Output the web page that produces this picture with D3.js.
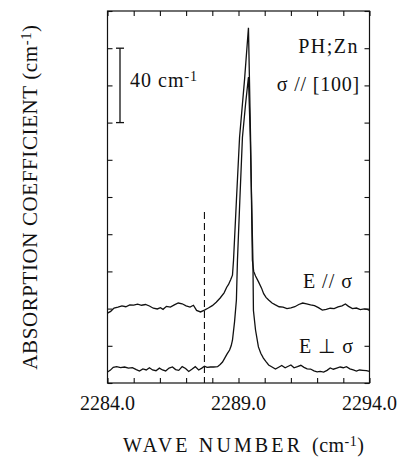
<!DOCTYPE html>
<html>
<head>
<meta charset="utf-8">
<script src="https://cdn.jsdelivr.net/npm/d3@7"></script>
<style>
  body { margin: 0; background: #fff; }
  text { font-family: "Liberation Serif", "Times New Roman", serif; fill: #111; }
</style>
</head>
<body>
<svg id="chart" width="406" height="457"></svg>
<script>
// E // sigma trace (wave number, absorption cm-1)
var wnPar = [2284.00,2284.12,2284.25,2284.40,2284.55,2284.70,2284.85,2285.00,2285.15,2285.30,2285.45,2285.60,2285.75,2285.90,2286.02,2286.12,2286.25,2286.40,2286.55,2286.70,2286.85,2287.00,2287.15,2287.28,2287.40,2287.55,2287.70,2287.85,2288.00,2288.15,2288.30,2288.45,2288.55,2288.62,2288.70,2288.77,2288.81,2288.92,2289.04,2289.23,2289.38,2289.46,2289.53,2289.58,2289.65,2289.76,2289.88,2289.96,2290.05,2290.15,2290.28,2290.41,2290.55,2290.70,2290.85,2291.00,2291.15,2291.30,2291.45,2291.60,2291.75,2291.90,2292.05,2292.20,2292.35,2292.50,2292.65,2292.80,2292.95,2293.08,2293.20,2293.35,2293.50,2293.65,2293.80,2293.92,2294.00];
var absPar = [37.6,38.5,40.3,40.8,41.5,41.0,42.0,41.9,42.4,41.8,42.2,41.4,40.2,39.8,40.5,39.6,41.2,40.8,42.0,43.0,42.6,41.5,40.8,41.8,39.0,38.2,39.2,40.3,41.6,43.4,45.7,48.5,51.5,53.0,55.5,58.0,66,98,132,163,191,132,66,60,57.5,54.5,51,48,46,44.6,43,42,41.0,40.8,40.0,40.4,41.0,42.2,43.0,42.6,42.0,41.6,40.5,39.2,39.6,40.2,40.0,40.9,41.5,42.5,41.2,40.0,40.3,39.5,39.9,39.6,39.0];

// E perp sigma trace
var wnPerp = [2284.00,2284.10,2284.22,2284.35,2284.50,2284.65,2284.80,2284.95,2285.10,2285.22,2285.35,2285.48,2285.60,2285.72,2285.85,2285.98,2286.10,2286.22,2286.35,2286.48,2286.60,2286.72,2286.85,2286.98,2287.10,2287.22,2287.35,2287.48,2287.60,2287.70,2287.80,2287.93,2288.05,2288.20,2288.30,2288.39,2288.48,2288.56,2288.66,2288.72,2288.77,2288.85,2288.92,2288.96,2289.05,2289.15,2289.27,2289.38,2289.45,2289.55,2289.57,2289.65,2289.76,2289.85,2289.95,2290.05,2290.15,2290.28,2290.41,2290.55,2290.65,2290.78,2290.90,2291.00,2291.12,2291.25,2291.38,2291.50,2291.62,2291.75,2291.88,2292.00,2292.12,2292.25,2292.38,2292.50,2292.62,2292.75,2292.88,2293.00,2293.12,2293.25,2293.38,2293.50,2293.62,2293.75,2293.88,2294.00];
var absPerp = [5.9,6.8,8.4,8.8,8.3,8.6,8.0,8.3,7.2,6.4,7.6,7.0,8.2,7.0,6.6,8.0,7.0,6.5,8.0,8.6,7.2,6.8,8.8,7.8,6.2,7.4,8.8,7.0,8.0,9.0,8.4,8.6,8.6,8.8,10.0,11.3,13.5,15.5,17.7,20,23,33,44.6,66,98,132,150,164.5,132,66,39,28.5,19.4,16,13.4,11.5,9.7,8.6,7.5,8.6,9.4,8.2,9.0,9.7,8.2,8.8,9.5,8.4,7.6,7.5,6.5,6.0,6.2,5.9,6.8,8.1,7.4,8.0,8.6,8.2,8.8,7.6,7.0,6.4,7.0,6.8,6.6,6.2];

var xTicks = d3.range(2284, 2295, 1);
var xLabelTicks = [2284, 2289, 2294];
var yTicks = d3.range(0, 201, 20);
var dashedAt = 2287.7;
var scaleBar = [140, 180];   // 40 cm-1 bar

var svg = d3.select('#chart');
var pLeft = 107.5, pRight = 369.5, pTop = 11, pBottom = 383;

var x = d3.scaleLinear().domain([2284, 2294]).range([pLeft, pRight]);
var y = d3.scaleLinear().domain([0, 200]).range([pBottom, pTop]);

// frame
svg.append('rect')
  .attr('x', pLeft).attr('y', pTop)
  .attr('width', pRight - pLeft).attr('height', pBottom - pTop)
  .attr('fill', 'none').attr('stroke', '#111').attr('stroke-width', 1.2);

// axes with inward ticks
function styleAxis(g){
  g.select('.domain').remove();
  g.selectAll('line').attr('stroke', '#111').attr('stroke-width', 1.1);
}
svg.append('g').attr('transform', 'translate(0,' + pBottom + ')')
  .call(d3.axisBottom(x).tickValues(xTicks).tickSize(-5).tickFormat(''))
  .call(styleAxis);
svg.append('g').attr('transform', 'translate(0,' + pTop + ')')
  .call(d3.axisTop(x).tickValues(xTicks).tickSize(-5).tickFormat(''))
  .call(styleAxis);
svg.append('g').attr('transform', 'translate(' + pLeft + ',0)')
  .call(d3.axisLeft(y).tickValues(yTicks).tickSize(-5).tickFormat(''))
  .call(styleAxis);
svg.append('g').attr('transform', 'translate(' + pRight + ',0)')
  .call(d3.axisRight(y).tickValues(yTicks).tickSize(-5).tickFormat(''))
  .call(styleAxis);

// tick labels
svg.append('g').selectAll('text')
  .data(xLabelTicks)
  .enter().append('text')
  .attr('x', function(d){ return x(d); })
  .attr('y', 410)
  .attr('text-anchor', 'middle')
  .attr('font-size', 20)
  .text(function(d){ return d3.format('.1f')(d); });

// dashed marker
svg.append('line')
  .attr('x1', x(dashedAt)).attr('x2', x(dashedAt))
  .attr('y1', 212).attr('y2', pBottom)
  .attr('stroke', '#111').attr('stroke-width', 1.1)
  .attr('stroke-dasharray', '7,4');

// traces
var line = d3.line()
  .x(function(d){ return x(d[0]); })
  .y(function(d){ return y(d[1]); });

svg.append('path')
  .datum(d3.zip(wnPar, absPar))
  .attr('d', line)
  .attr('fill', 'none').attr('stroke', '#111').attr('stroke-width', 1.3);

svg.append('path')
  .datum(d3.zip(wnPerp, absPerp))
  .attr('d', line)
  .attr('fill', 'none').attr('stroke', '#111').attr('stroke-width', 1.3);

// 40 cm-1 scale bar
var bx = 120;
svg.append('line')
  .attr('x1', bx).attr('x2', bx)
  .attr('y1', y(scaleBar[1])).attr('y2', y(scaleBar[0]))
  .attr('stroke', '#111').attr('stroke-width', 1.3);
[scaleBar[0], scaleBar[1]].forEach(function(v){
  svg.append('line')
    .attr('x1', bx - 4).attr('x2', bx + 4)
    .attr('y1', y(v)).attr('y2', y(v))
    .attr('stroke', '#111').attr('stroke-width', 1.3);
});

function supLabel(t, main, sup, tail){
  t.append('tspan').text(main);
  t.append('tspan').attr('font-size', '0.7em').attr('dy', -6).text(sup);
  if (tail) t.append('tspan').attr('dy', 6).text(tail);
}

var t40 = svg.append('text').attr('x', 130).attr('y', 87)
  .attr('font-size', 20).attr('letter-spacing', 1);
supLabel(t40, '40 cm', '-1');

// annotations
svg.append('text').attr('x', 359).attr('y', 53).attr('text-anchor', 'end')
  .attr('font-size', 20).attr('letter-spacing', 1.5).text('PH;Zn');
svg.append('text').attr('x', 360).attr('y', 91).attr('text-anchor', 'end')
  .attr('font-size', 20).attr('letter-spacing', 0.8).text('\u03c3 // [100]');
svg.append('text').attr('x', 353).attr('y', 288).attr('text-anchor', 'end')
  .attr('font-size', 20).attr('letter-spacing', 1).text('E // \u03c3');
svg.append('text').attr('x', 354).attr('y', 353).attr('text-anchor', 'end')
  .attr('font-size', 20).attr('letter-spacing', 1).text('E \u22a5 \u03c3');

// axis titles
svg.append('text').attr('x', 123).attr('y', 452)
  .attr('font-size', 20).attr('textLength', 177).attr('lengthAdjust', 'spacing')
  .text('WAVE NUMBER');
var xt = svg.append('text').attr('x', 312).attr('y', 452)
  .attr('font-size', 20).attr('letter-spacing', 0.5);
supLabel(xt, '(cm', '-1', ')');

var yt = svg.append('text')
  .attr('transform', 'translate(37,197) rotate(-90)')
  .attr('text-anchor', 'middle')
  .attr('font-size', 21)
  .attr('letter-spacing', 0.6);
supLabel(yt, 'ABSORPTION COEFFICIENT (cm', '-1', ')');
</script>
</body>
</html>
